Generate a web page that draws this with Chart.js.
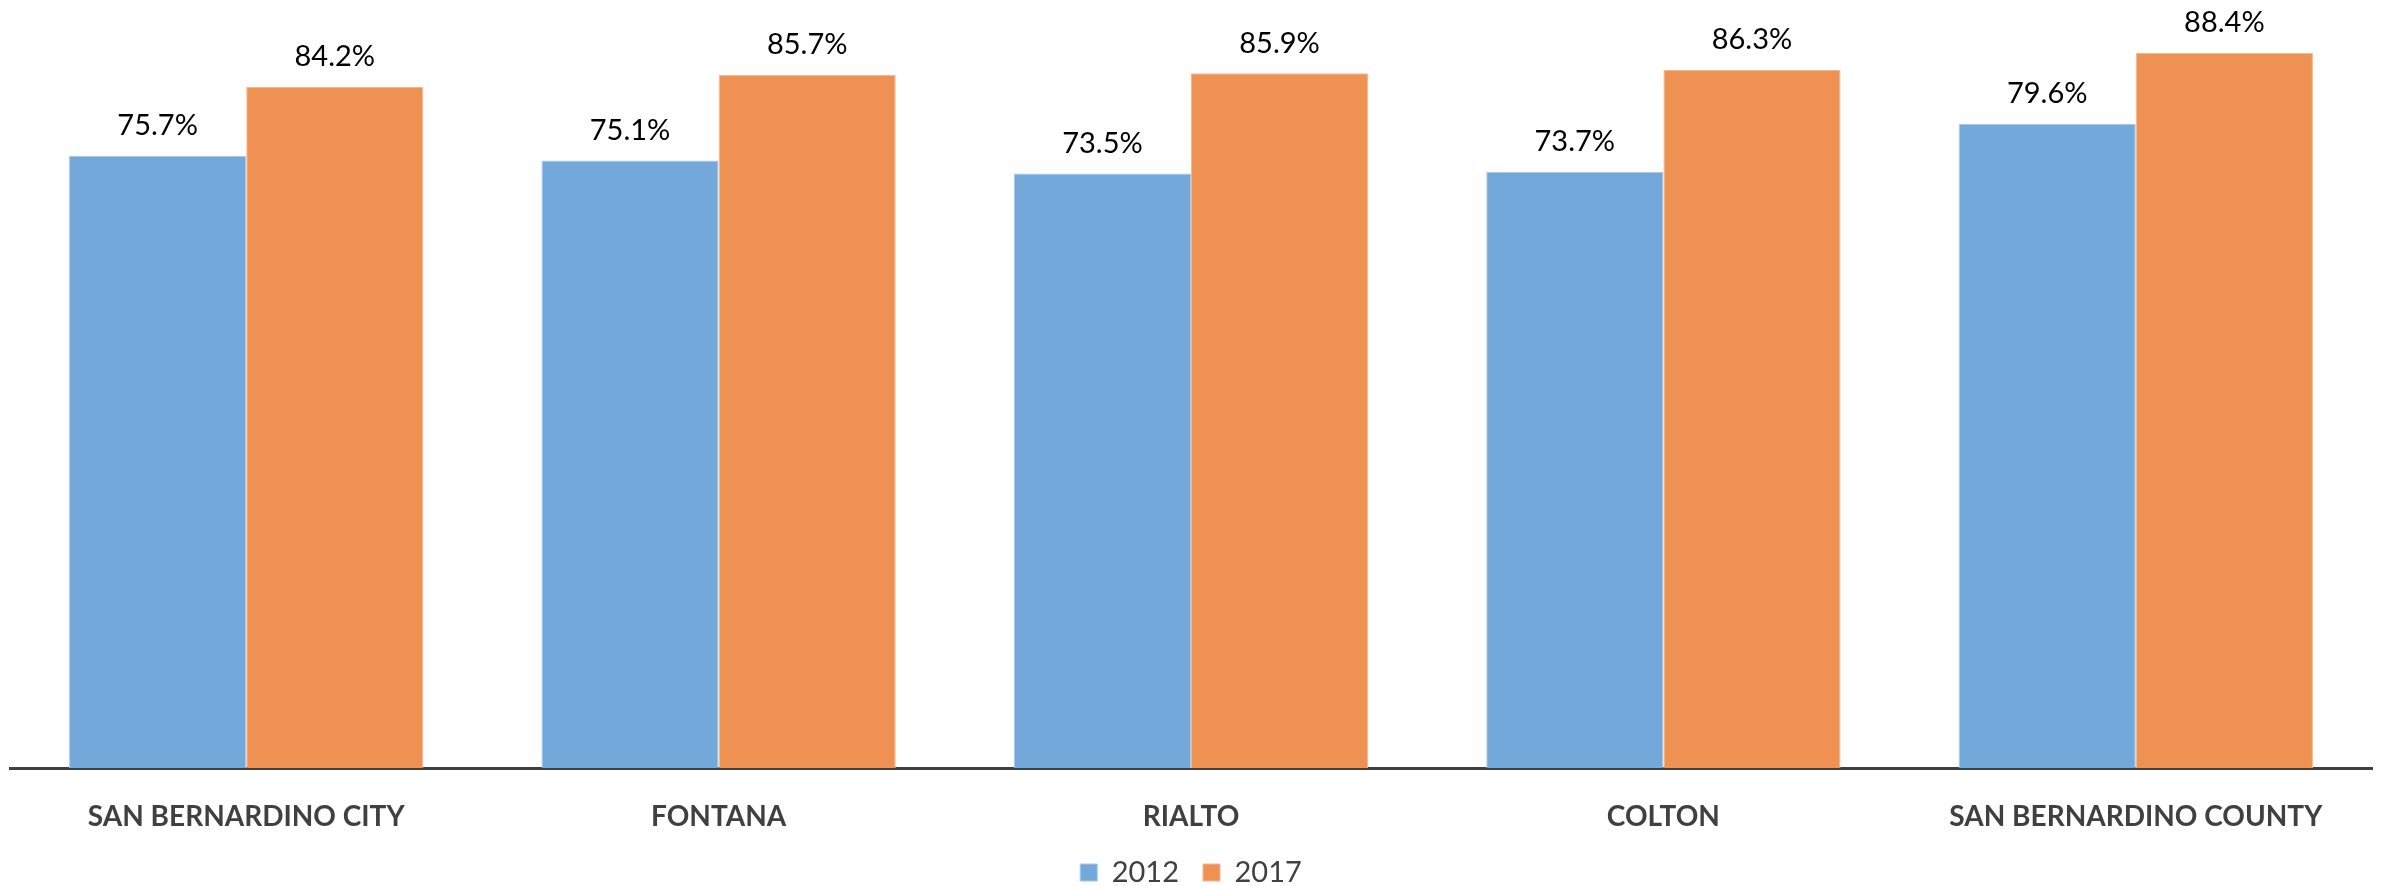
<!DOCTYPE html>
<html>
<head>
<meta charset="utf-8">
<script src="https://cdn.jsdelivr.net/npm/chart.js@4"></script>
<style>
  html, body { margin: 0; padding: 0; background: #fff; }
  #wrap { width: 2381px; height: 886px; }
</style>
</head>
<body>
<div id="wrap"><canvas id="grafico"></canvas></div>
<script>
const categorias = ['SAN BERNARDINO CITY', 'FONTANA', 'RIALTO', 'COLTON', 'SAN BERNARDINO COUNTY'];
const serie2012 = [75.7, 75.1, 73.5, 73.7, 79.6];
const serie2017 = [84.2, 85.7, 85.9, 86.3, 88.4];
const anios = ['2012', '2017'];

// etiquetas de valor encima de cada barra
const etiquetas = {
  id: 'etiquetas',
  afterDatasetsDraw(chart) {
    const ctx = chart.ctx;
    ctx.save();
    ctx.font = '29px Lato';
    ctx.fillStyle = '#000';
    ctx.textAlign = 'center';
    ctx.textBaseline = 'middle';
    chart.data.datasets.forEach((ds, i) => {
      chart.getDatasetMeta(i).data.forEach((bar, j) => {
        ctx.fillText(ds.data[j].toFixed(1) + '%', bar.x, bar.y - 30);
      });
    });
    ctx.restore();
  }
};

new Chart(document.getElementById('grafico').getContext('2d'), {
  type: 'bar',
  data: {
    labels: categorias,
    datasets: [{
      label: anios[0],
      data: serie2012,
      backgroundColor: '#73A9DA',
      borderColor: '#A6C8E9',
      borderWidth: 1
    }, {
      label: anios[1],
      data: serie2017,
      backgroundColor: '#EF9152',
      borderColor: '#F5B88E',
      borderWidth: 1
    }]
  },
  options: {
    responsive: true,
    maintainAspectRatio: false,
    animation: false,
    layout: { padding: { left: 10, right: 9, top: 40, bottom: 0 } },
    datasets: { bar: { categoryPercentage: 0.75, barPercentage: 1 } },
    plugins: {
      tooltip: { enabled: false },
      legend: {
        position: 'bottom',
        maxHeight: 52,
        labels: {
          boxWidth: 17,
          boxHeight: 17,
          padding: 24,
          color: '#404040',
          font: { family: 'Lato', size: 29 }
        }
      }
    },
    scales: {
      y: {
        display: false,
        min: 0,
        max: 90
      },
      x: {
        grid: { display: false },
        border: { display: true, color: '#404040', width: 3 },
        ticks: {
          padding: 24,
          color: '#404040',
          font: { family: 'Lato', size: 28, weight: 'bold' }
        },
        afterFit: (scale) => { scale.height = 66; }
      }
    }
  },
  plugins: [etiquetas]
});
</script>
</body>
</html>
